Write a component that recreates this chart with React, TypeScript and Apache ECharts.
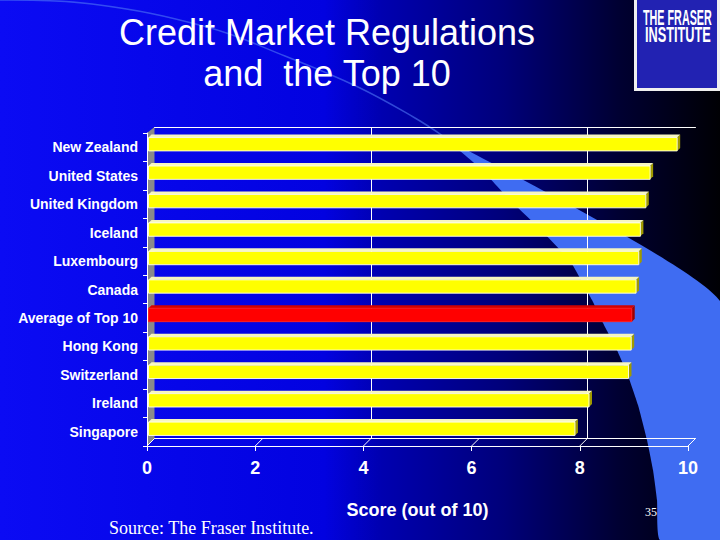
import React, { useEffect, useRef } from "react";
import * as echarts from "echarts";

const categories = [
  "New Zealand",
  "United States",
  "United Kingdom",
  "Iceland",
  "Luxembourg",
  "Canada",
  "Average of Top 10",
  "Hong Kong",
  "Switzerland",
  "Ireland",
  "Singapore",
];
const scores = [9.8, 9.3, 9.22, 9.12, 9.09, 9.04, 8.96, 8.95, 8.9, 8.17, 7.91];
const highlightCategory = "Average of Top 10";
const xTickValues = [0, 2, 4, 6, 8, 10];

const titleText = "Credit Market Regulations\nand  the Top 10";
const axisTitle = "Score (out of 10)";
const sourceText = "Source: The Fraser Institute.";
const pageNumber = "35";

const SANS = "'Liberation Sans', Arial, Helvetica, sans-serif";
const SERIF = "'Liberation Serif', 'Times New Roman', serif";

// layout (front plane of the 3D plot)
const FL = 147;
const FR = 688;
const FT = 133;
const FB = 446;
const DX = 7.5;
const DY = -7.5;

export default function App() {
  const ref = useRef<HTMLDivElement>(null);

  useEffect(() => {
    if (!ref.current) return;
    const chart = echarts.init(ref.current, null, { renderer: "svg" });

    const barData = scores.map((v, i) => [v, i]);
    const floorData = xTickValues.map((v) => [v, 0]);

    const renderBar = (params: any, api: any) => {
      const v = api.value(0);
      const idx = api.value(1);
      const p0 = api.coord([0, idx]);
      const p1 = api.coord([v, idx]);
      const band = api.size([0, 1])[1];
      const h = band * 0.47;
      const cy = p0[1] - 3;
      const x0 = p0[0] + 1.5;
      const x1 = p1[0];
      const top = cy - h / 2;
      const bot = cy + h / 2;
      const d = 3;
      const isHi = categories[idx] === highlightCategory;
      const front = isHi ? "#ff0000" : "#ffff00";
      const topFace = isHi ? "#d40000" : "#f6f6c0";
      const side = isHi ? "#a00000" : "#a09a00";
      const stroke = isHi ? "#ff2020" : "rgba(255,255,240,0.9)";
      return {
        type: "group",
        children: [
          {
            type: "polygon",
            shape: { points: [[x1, top], [x1 + d, top - d], [x1 + d, bot - d], [x1, bot]] },
            style: { fill: side },
          },
          {
            type: "polygon",
            shape: { points: [[x0, top], [x0 + d, top - d], [x1 + d, top - d], [x1, top]] },
            style: { fill: topFace },
          },
          {
            type: "rect",
            shape: { x: x0, y: top, width: x1 - x0, height: h },
            style: { fill: front, stroke: stroke, lineWidth: 1 },
          },
        ],
      };
    };

    const renderFloor = (params: any, api: any) => {
      const v = api.value(0);
      const p = api.coord([v, 0]);
      const y = params.coordSys.y + params.coordSys.height;
      return {
        type: "line",
        shape: { x1: p[0], y1: y, x2: p[0] + DX, y2: y + DY },
        style: { stroke: "#ffffff", lineWidth: 1 },
      };
    };

    const bg = new echarts.graphic.LinearGradient(0, 0, 1, 0, [
      { offset: 0, color: "#0b0bf4" },
      { offset: 0.45, color: "#0202e0" },
      { offset: 0.53, color: "#0000b0" },
      { offset: 0.7, color: "#00007a" },
      { offset: 0.86, color: "#000032" },
      { offset: 1, color: "#000004" },
    ]);

    const swooshLeft = [
      [443, 137],
      [480, 168],
      [510, 200],
      [540, 229],
      [570, 261],
      [592, 300],
      [603, 323],
      [616, 348],
      [627, 373],
      [638, 405],
      [647, 440],
      [653, 470],
      [657, 500],
      [660, 540],
    ];
    const swooshPoly = [[440, 135], [720, 301], [720, 540], ...swooshLeft.slice().reverse()];

    const option: any = {
      animation: false,
      graphic: [
        {
          type: "rect",
          z: -100,
          shape: { x: 0, y: 0, width: 720, height: 540 },
          style: { fill: bg },
        },
        {
          type: "polyline",
          z: -95,
          shape: {
            points: [[0, 0], [92, 4], [207, 27], [285, 56], [358, 87], [415, 118], [443, 136]],
            smooth: 0.4,
          },
          style: { stroke: "rgba(80,120,245,0.6)", lineWidth: 1.5, fill: null },
        },
        {
          type: "polygon",
          z: -94,
          shape: { points: swooshPoly, smooth: 0.15 },
          style: { fill: "#3f6cf2" },
        },
        {
          type: "polygon",
          z: -1,
          shape: { points: [[FL, FT], [FL + DX, 127], [FL + DX, FB + DY], [FL, FB]] },
          style: { fill: "#8a8a8a" },
        },
        {
          type: "text",
          z: 10,
          style: {
            x: 327,
            y: 12,
            text: titleText,
            fill: "#ffffff",
            font: `36px ${SANS}`,
            textAlign: "center",
            textVerticalAlign: "top",
            lineHeight: 41,
          },
        },
        {
          type: "group",
          z: 10,
          children: [
            {
              type: "rect",
              shape: { x: 634, y: 0, width: 86, height: 91 },
              style: { fill: "#f0f0f0" },
            },
            {
              type: "rect",
              shape: { x: 637, y: 0, width: 80, height: 88 },
              style: { fill: "#2222b2" },
            },
            {
              type: "text",
              x: 643,
              y: 6,
              scaleX: 0.49,
              style: {
                x: 0,
                y: 0,
                text: "THE FRASER",
                fill: "#ffffff",
                font: `bold 22px ${SANS}`,
                textAlign: "left",
                textVerticalAlign: "top",
              },
            },
            {
              type: "text",
              x: 645,
              y: 24,
              scaleX: 0.58,
              style: {
                x: 0,
                y: 0,
                text: "INSTITUTE",
                fill: "#ffffff",
                font: `bold 22px ${SANS}`,
                textAlign: "left",
                textVerticalAlign: "top",
              },
            },
          ],
        },
        {
          type: "text",
          z: 10,
          style: {
            x: 109,
            y: 528,
            text: sourceText,
            fill: "#ffffff",
            font: `18px ${SERIF}`,
            textAlign: "left",
            textVerticalAlign: "middle",
          },
        },
        {
          type: "text",
          z: 10,
          style: {
            x: 651,
            y: 512,
            text: pageNumber,
            fill: "#ffffff",
            font: `12px ${SERIF}`,
            textAlign: "center",
            textVerticalAlign: "middle",
          },
        },
      ],
      grid: [
        { left: FL, right: 720 - FR, top: FT, bottom: 540 - FB },
        { left: FL + DX, right: 720 - FR - DX, top: 127, bottom: 540 - FB - DY },
      ],
      xAxis: [
        {
          gridIndex: 0,
          type: "value",
          min: 0,
          max: 10,
          interval: 2,
          axisLine: { show: true, onZero: false, lineStyle: { color: "#ffffff", width: 1 } },
          axisTick: { show: true, length: 5, lineStyle: { color: "#ffffff" } },
          splitLine: { show: false },
          axisLabel: {
            color: "#ffffff",
            fontSize: 18,
            fontWeight: "bold",
            fontFamily: SANS,
            margin: 13,
          },
          name: axisTitle,
          nameLocation: "middle",
          nameGap: 55,
          nameTextStyle: {
            color: "#ffffff",
            fontSize: 18,
            fontWeight: "bold",
            fontFamily: SANS,
          },
        },
        {
          gridIndex: 1,
          type: "value",
          min: 0,
          max: 10,
          interval: 4,
          axisLine: { show: true, onZero: false, lineStyle: { color: "#ffffff", width: 1 } },
          axisTick: { show: false },
          axisLabel: { show: false },
          splitLine: {
            show: true,
            showMinLine: false,
            showMaxLine: false,
            lineStyle: { color: "#ffffff", width: 1 },
          },
        },
        {
          gridIndex: 1,
          type: "value",
          position: "top",
          min: 0,
          max: 10,
          axisLine: { show: true, onZero: false, lineStyle: { color: "#ffffff", width: 1 } },
          axisTick: { show: false },
          axisLabel: { show: false },
          splitLine: { show: false },
        },
      ],
      yAxis: [
        {
          gridIndex: 0,
          type: "category",
          data: categories,
          inverse: true,
          axisLine: { show: true, onZero: false, lineStyle: { color: "#ffffff", width: 1 } },
          axisTick: { show: true, length: 4, lineStyle: { color: "#ffffff" } },
          axisLabel: {
            color: "#ffffff",
            fontSize: 14,
            fontWeight: "bold",
            fontFamily: SANS,
            margin: 9,
          },
          splitLine: { show: false },
        },
        {
          gridIndex: 1,
          type: "value",
          show: false,
          min: 0,
          max: 1,
        },
      ],
      series: [
        {
          type: "custom",
          name: "floor",
          xAxisIndex: 0,
          yAxisIndex: 0,
          data: floorData,
          encode: { x: 0, y: 1 },
          renderItem: renderFloor,
          silent: true,
          z: 1,
        },
        {
          type: "custom",
          name: "Score",
          xAxisIndex: 0,
          yAxisIndex: 0,
          data: barData,
          encode: { x: 0, y: 1 },
          renderItem: renderBar,
          z: 3,
        },
      ],
    };

    chart.setOption(option);
    return () => chart.dispose();
  }, []);

  return (
    <div
      ref={ref}
      style={{ position: "absolute", left: 0, top: 0, width: 720, height: 540 }}
    />
  );
}
